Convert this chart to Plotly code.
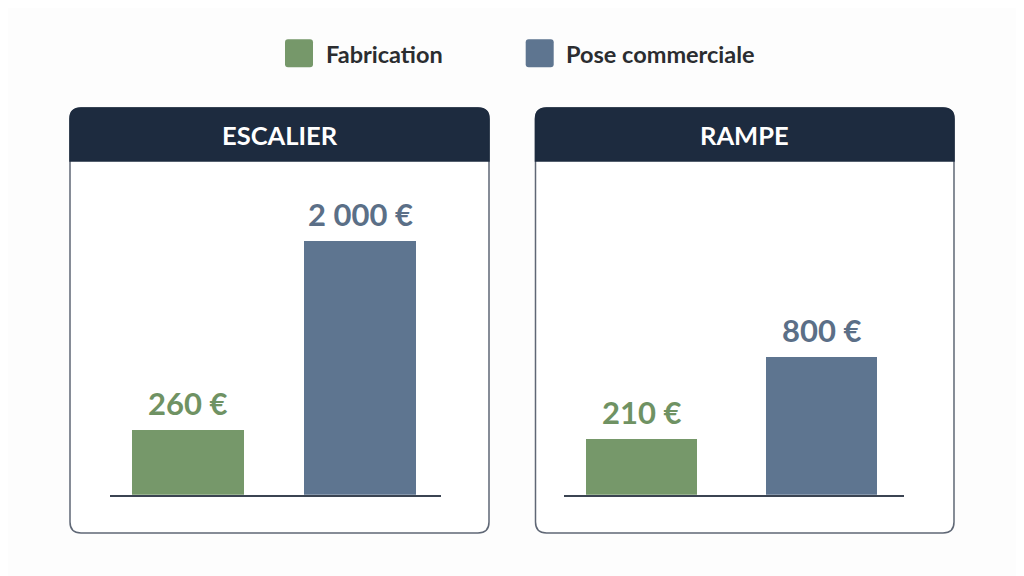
import numpy as np
import plotly.graph_objects as go

W, H = 1024, 576
OFF = 8  # the page body adds an 8px margin around the figure

# data
panels = ["ESCALIER", "RAMPE"]
series = ["Fabrication", "Pose commerciale"]
fabrication = [260, 210]
pose = [2000, 800]
fab_labels = ["260 €", "210 €"]
pose_labels = ["2 000 €", "800 €"]

green = "#76986a"
blue = "#5e7590"
green_txt = "#6f9263"
blue_txt = "#5b6f87"
navy = "#1d2b3f"
border = "#5f6775"
font = "Lato"


def fx(x):
    return (x - OFF) / W


def fy(y):
    return 1 - (y - OFF) / H


def px(x, y):
    return fx(x), fy(y)


def rounded(x0, y0, x1, y1, r, top_only=False):
    # rounded rect path in paper coords, built from pixel positions
    pts = []
    pts.append("M %f,%f" % px(x0 + r, y0))
    pts.append("L %f,%f" % px(x1 - r, y0))
    pts.append("Q %f,%f %f,%f" % (px(x1, y0) + px(x1, y0 + r)))
    if top_only:
        pts.append("L %f,%f" % px(x1, y1))
        pts.append("L %f,%f" % px(x0, y1))
    else:
        pts.append("L %f,%f" % px(x1, y1 - r))
        pts.append("Q %f,%f %f,%f" % (px(x1, y1) + px(x1 - r, y1)))
        pts.append("L %f,%f" % px(x0 + r, y1))
        pts.append("Q %f,%f %f,%f" % (px(x0, y1) + px(x0, y1 - r)))
    pts.append("L %f,%f" % px(x0, y0 + r))
    pts.append("Q %f,%f %f,%f" % (px(x0, y0) + px(x0 + r, y0)))
    pts.append("Z")
    return " ".join(pts)


fig = go.Figure()

frames = [(70, 489), (535.5, 954)]
xdoms = [(110, 441), (564.3, 904)]
xranges = [[-0.451, 1.470], [-0.432, 1.458]]
yranges = [[2.1136, 3.6359], [1.9324, 4.2158]]
widths = [0.65, 0.62]

shapes = []
annotations = []

for i, name in enumerate(panels):
    xa = "x" if i == 0 else "x2"
    ya = "y" if i == 0 else "y2"
    vals = [fabrication[i], pose[i]]
    fig.add_trace(go.Bar(x=series, y=vals, xaxis=xa, yaxis=ya,
                         marker=dict(color=[green, blue], line=dict(width=0)),
                         width=widths[i], showlegend=False, hoverinfo="skip"))
    for j, (v, t) in enumerate(zip(vals, [fab_labels[i], pose_labels[i]])):
        annotations.append(dict(x=series[j], y=np.log10(v), xref=xa, yref=ya,
                                text=t, showarrow=False, yanchor="bottom",
                                yshift=6,
                                font=dict(family=font, size=31, weight=700,
                                          color=green_txt if j == 0 else blue_txt)))
    x0, x1 = frames[i]
    shapes.append(dict(type="path", xref="paper", yref="paper", layer="below",
                       path=rounded(x0, 108, x1, 533, 11),
                       fillcolor="white", line=dict(color=border, width=1.5)))
    shapes.append(dict(type="path", xref="paper", yref="paper", layer="below",
                       path=rounded(x0, 108, x1, 161, 11, top_only=True),
                       fillcolor=navy, line=dict(color=navy, width=1.5)))
    annotations.append(dict(x=fx((x0 + x1) / 2), y=fy(135), xref="paper",
                            yref="paper", text=name, showarrow=False,
                            xanchor="center", yanchor="middle",
                            font=dict(family=font, size=25.5, weight=700,
                                      color="white")))

# legend drawn by hand so the swatches can be large
leg = [(285, 324, green), (525.7, 564, blue)]
for (sx, tx, c), s in zip(leg, series):
    shapes.append(dict(type="path", xref="paper", yref="paper",
                       path=rounded(sx, 39.3, sx + 28, 67.3, 3),
                       fillcolor=c, line=dict(width=0)))
    annotations.append(dict(x=fx(tx), y=fy(53.5), xref="paper",
                            yref="paper", text=s, showarrow=False,
                            xanchor="left", yanchor="middle",
                            font=dict(family=font, size=23.5, weight=700,
                                      color="#2b2d30")))

axis_x = dict(showticklabels=False, showgrid=False, zeroline=False, ticks="",
              showline=True, linecolor="#3b4452", linewidth=2, fixedrange=True)
axis_y = dict(type="log", visible=False, showgrid=False, zeroline=False,
              fixedrange=True, domain=[fy(494.7), fy(170)])

fig.update_layout(
    width=W, height=H, margin=dict(l=0, r=0, t=0, b=0),
    paper_bgcolor="#fdfdfd", plot_bgcolor="rgba(0,0,0,0)",
    xaxis=dict(axis_x, domain=[fx(xdoms[0][0]), fx(xdoms[0][1])], range=xranges[0]),
    xaxis2=dict(axis_x, domain=[fx(xdoms[1][0]), fx(xdoms[1][1])], range=xranges[1],
                anchor="y2"),
    yaxis=dict(axis_y, range=yranges[0]),
    yaxis2=dict(axis_y, range=yranges[1], anchor="x2"),
    shapes=shapes, annotations=annotations, bargap=0,
)

fig.write_html("out.html")
